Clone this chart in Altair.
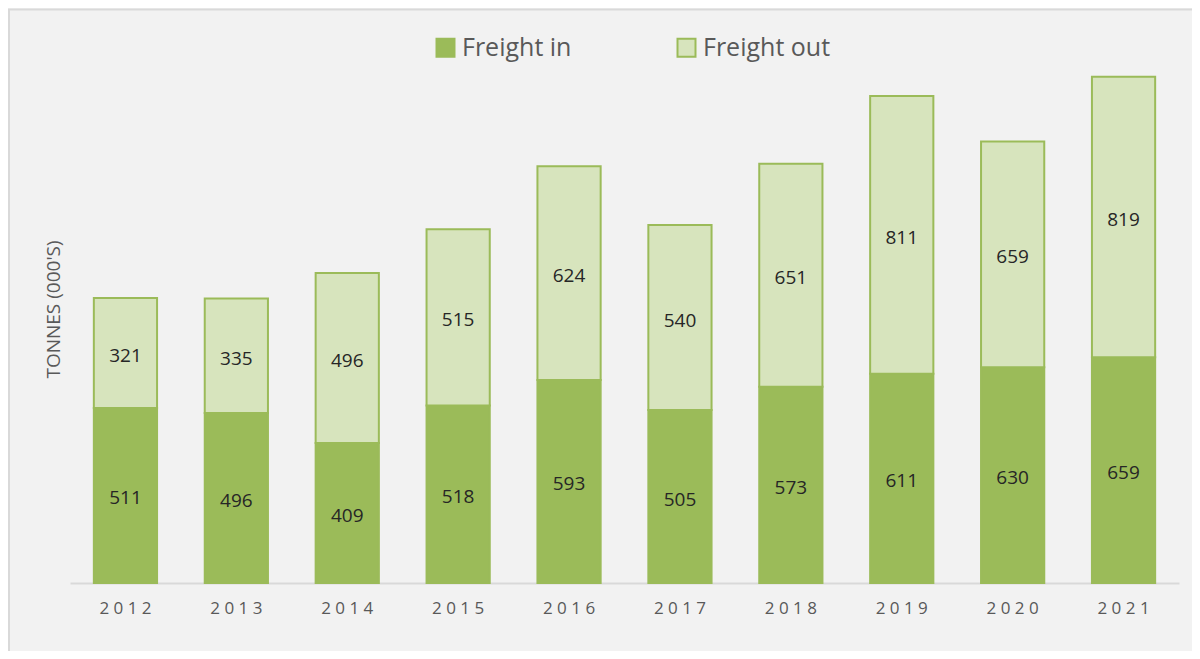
import altair as alt
import pandas as pd

years = ["2012", "2013", "2014", "2015", "2016", "2017", "2018", "2019", "2020", "2021"]
freight_in = [511, 496, 409, 518, 593, 505, 573, 611, 630, 659]
freight_out = [321, 335, 496, 515, 624, 540, 651, 811, 659, 819]
series = ["Freight in", "Freight out"]
colors = ["#9bbb59", "#d7e4bd"]

rows = []
for yr, a, b in zip(years, freight_in, freight_out):
    rows.append({"year": yr, "series": series[0], "value": a, "ord": 0})
    rows.append({"year": yr, "series": series[1], "value": b, "ord": 1})
df = pd.DataFrame(rows)

FONT = "Open Sans"
W, H = 1109, 548

base = alt.Chart(df).transform_stack(
    stack="value", groupby=["year"], as_=["y0", "y1"],
    sort=[alt.SortField("ord", order="ascending")]
).transform_calculate(mid="(datum.y0 + datum.y1) / 2")

xenc = alt.X(
    "year:N",
    sort=years,
    scale=alt.Scale(paddingInner=0.43, paddingOuter=0.215),
    axis=alt.Axis(
        title=None, labelAngle=0, ticks=False,
        domainColor="#d9d9d9", domainWidth=2,
        labelExpr="join(split(datum.label, ''), ' ')",
        labelFont=FONT, labelFontSize=17, labelColor="#595959",
        labelPadding=17, grid=False,
    ),
)

bars = base.mark_bar(stroke="#9bbb59", strokeWidth=2).encode(
    x=xenc,
    y=alt.Y(
        "y0:Q",
        scale=alt.Scale(domain=[0, 1600], nice=False),
        axis=alt.Axis(
            title="TONNES (000'S)", labels=False, ticks=False, domain=False, grid=False,
            titleFont=FONT, titleFontSize=19, titleFontWeight="normal",
            titleColor="#595959", titlePadding=7,
        ),
    ),
    y2="y1:Q",
    color=alt.Color(
        "series:N",
        scale=alt.Scale(domain=series, range=colors),
        legend=alt.Legend(
            title=None, orient="none", legendX=363, legendY=0,
            direction="horizontal", symbolType="square", symbolSize=324,
            symbolStrokeColor="#9bbb59", symbolStrokeWidth=2,
            labelFont=FONT, labelFontSize=25, labelColor="#595959",
            labelOffset=4, columnPadding=101,
        ),
    ),
)

labels = base.mark_text(font=FONT, fontSize=19, color="#262626", dy=3).encode(
    x=alt.X("year:N", sort=years),
    y=alt.Y("mid:Q"),
    text=alt.Text("value:Q"),
)

frame_df = pd.DataFrame({"k": [0]})
top_rule = alt.Chart(frame_df).mark_rule(color="#d9d9d9", strokeWidth=2).encode(
    x=alt.value(-62), x2=alt.value(W + 13), y=alt.value(-25.5)
)
left_rule = alt.Chart(frame_df).mark_rule(color="#d9d9d9", strokeWidth=2).encode(
    x=alt.value(-61), y=alt.value(-26), y2=alt.value(H + 68)
)

chart = alt.layer(bars, labels, top_rule, left_rule).properties(
    width=W, height=H,
    autosize=alt.AutoSizeParams(type="none"),
    padding={"left": 62, "top": 27, "right": 13, "bottom": 68},
    background="#f2f2f2",
).configure_view(stroke="transparent")

chart.save("out.html", embed_options={"renderer": "svg", "actions": False})
